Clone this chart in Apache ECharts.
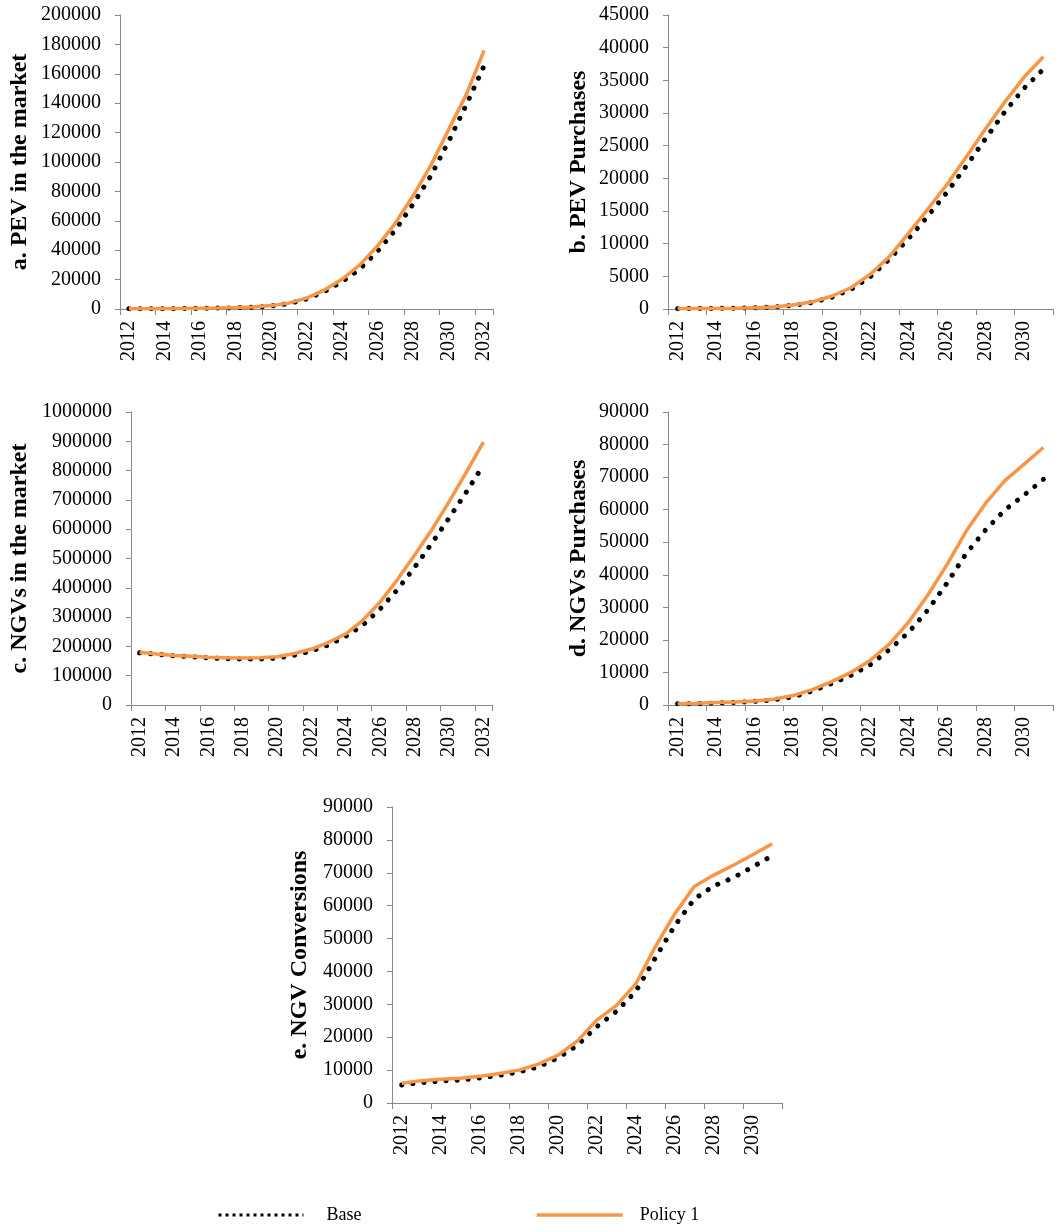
<!DOCTYPE html>
<html>
<head>
<meta charset="utf-8">
<title>PEV and NGV scenarios</title>
<script src="https://cdn.jsdelivr.net/npm/echarts@6/dist/echarts.min.js"></script>
<style>
  html, body { margin: 0; padding: 0; background: #fff; }
  #chart { width: 1061px; height: 1232px; }
</style>
</head>
<body>
<div id="chart"></div>
<script>
// Category labels (years)
const yearsTo2032 = ['2012','2013','2014','2015','2016','2017','2018','2019','2020','2021','2022',
                     '2023','2024','2025','2026','2027','2028','2029','2030','2031','2032'];
const yearsTo2031 = ['2012','2013','2014','2015','2016','2017','2018','2019','2020','2021','2022',
                     '2023','2024','2025','2026','2027','2028','2029','2030','2031'];

// a. PEV in the market
const pevMarketBase   = [100,150,200,280,400,600,850,1200,2000,3600,6800,11800,18600,27200,39200,53700,71400,90500,114000,139000,165500];
const pevMarketPolicy = [100,150,210,300,430,650,950,1350,2300,4000,7400,12900,20200,30000,42900,58300,77000,97700,122000,146000,176000];

// b. PEV Purchases
const pevPurchBase   = [50,70,90,120,170,300,550,1000,1800,3000,4900,7600,10800,14200,17900,21900,26100,30200,33800,36700];
const pevPurchPolicy = [50,70,95,130,180,320,600,1100,1950,3250,5300,8000,11600,15300,19100,23300,27600,31700,35500,38600];

// c. NGVs in the market
const ngvMarketBase   = [178000,173000,168000,165000,161000,158000,157000,157000,160000,170000,184000,205000,235000,273000,328000,394000,470000,552000,638000,726000,819000];
const ngvMarketPolicy = [180000,174000,169000,166000,163000,161000,160000,161000,165000,176000,191000,214000,243000,290000,352000,428000,512000,598000,693000,794000,897000];

// d. NGVs Purchases
const ngvPurchBase   = [350,450,600,800,1100,1600,2500,4300,6600,9100,12300,17000,22300,29200,37500,46600,53800,59900,64500,69300];
const ngvPurchPolicy = [400,550,750,950,1250,1800,2900,4700,7200,10000,13700,18700,25500,33800,43200,53500,62000,68900,74000,79100];

// e. NGV Conversions
const ngvConvBase   = [5500,6200,6700,7000,7600,8400,9400,11000,13700,17500,23200,27800,33900,44100,53900,62000,66000,68500,71800,75200];
const ngvConvPolicy = [6000,6800,7200,7500,8100,9000,10000,11800,14500,18800,25200,29600,36200,47500,57500,65800,69300,72300,75500,78800];

const FONT = 'Liberation Serif';
const AXIS_GREY = '#898989';

// Panel layout: grid box, value axis range and title
const panels = [
  { grid: {left: 120, top: 15,  width: 373, height: 294}, cats: yearsTo2032, base: pevMarketBase, policy: pevMarketPolicy, max: 200000,  step: 20000,  title: 'a. PEV in the market',  gap: 88 },
  { grid: {left: 668, top: 15,  width: 385, height: 294}, cats: yearsTo2031, base: pevPurchBase,  policy: pevPurchPolicy,  max: 45000,   step: 5000,   title: 'b. PEV Purchases',      gap: 77 },
  { grid: {left: 131, top: 412, width: 361, height: 293}, cats: yearsTo2032, base: ngvMarketBase, policy: ngvMarketPolicy, max: 1000000, step: 100000, title: 'c. NGVs in the market', gap: 99 },
  { grid: {left: 668, top: 412, width: 385, height: 293}, cats: yearsTo2031, base: ngvPurchBase,  policy: ngvPurchPolicy,  max: 90000,   step: 10000,  title: 'd. NGVs Purchases',     gap: 77 },
  { grid: {left: 392, top: 807, width: 390, height: 296}, cats: yearsTo2031, base: ngvConvBase,   policy: ngvConvPolicy,   max: 90000,   step: 10000,  title: 'e. NGV Conversions',    gap: 80 }
];

const grids = [], xAxes = [], yAxes = [], series = [];

panels.forEach((p, i) => {
  grids.push(Object.assign({ containLabel: false }, p.grid));
  xAxes.push({
    type: 'category',
    gridIndex: i,
    data: p.cats,
    boundaryGap: true,
    axisLine: { show: true, lineStyle: { color: AXIS_GREY, width: 1 } },
    axisTick: { show: true, interval: 1, length: 6, lineStyle: { color: AXIS_GREY } },
    axisLabel: { interval: 1, rotate: 90, margin: 12, fontFamily: FONT, fontSize: 20, color: '#000' },
    splitLine: { show: false }
  });
  yAxes.push({
    type: 'value',
    gridIndex: i,
    min: 0,
    max: p.max,
    interval: p.step,
    axisLine: { show: true, lineStyle: { color: AXIS_GREY, width: 1 } },
    axisTick: { show: true, length: 5, lineStyle: { color: AXIS_GREY } },
    axisLabel: {
      margin: 19, fontFamily: FONT, fontSize: 20, color: '#000',
      formatter: v => String(v)
    },
    splitLine: { show: false },
    name: p.title,
    nameLocation: 'middle',
    nameRotate: 90,
    nameGap: p.gap,
    nameTextStyle: { fontFamily: FONT, fontSize: 24, fontWeight: 'bold', color: '#000' }
  });
  series.push({
    type: 'line',
    name: 'Base',
    xAxisIndex: i,
    yAxisIndex: i,
    data: p.base,
    symbol: 'none',
    showSymbol: false,
    itemStyle: { color: '#000' },
    lineStyle: { color: '#000', width: 5, type: [0.1, 11], cap: 'round' },
    z: 2
  });
  series.push({
    type: 'line',
    name: 'Policy 1',
    xAxisIndex: i,
    yAxisIndex: i,
    data: p.policy,
    symbol: 'none',
    showSymbol: false,
    itemStyle: { color: '#F79646' },
    lineStyle: { color: '#F79646', width: 3.5 },
    z: 3
  });
});

// Legend entries show only the line sample, no marker
const hiddenMarker = { color: 'rgba(0,0,0,0)', borderColor: 'rgba(0,0,0,0)', borderWidth: 0, opacity: 0 };

const chart = echarts.init(document.getElementById('chart'), null, { renderer: 'canvas' });
chart.setOption({
  animation: false,
  backgroundColor: '#fff',
  grid: grids,
  xAxis: xAxes,
  yAxis: yAxes,
  legend: [
    {
      data: ['Base'],
      left: 217, top: 1206,
      padding: 0,
      itemWidth: 85, itemHeight: 20,
      selectedMode: false,
      itemStyle: hiddenMarker,
      lineStyle: { color: '#000', width: 3, type: [3, 4], cap: 'butt' },
      textStyle: { fontFamily: FONT, fontSize: 18, color: '#000', padding: [0, 0, 0, 18] }
    },
    {
      data: ['Policy 1'],
      left: 535, top: 1206,
      padding: 0,
      itemWidth: 86, itemHeight: 20,
      selectedMode: false,
      itemStyle: hiddenMarker,
      lineStyle: { color: '#F79646', width: 3.5 },
      textStyle: { fontFamily: FONT, fontSize: 18, color: '#000', padding: [0, 0, 0, 12] }
    }
  ],
  series: series
});
</script>
</body>
</html>
